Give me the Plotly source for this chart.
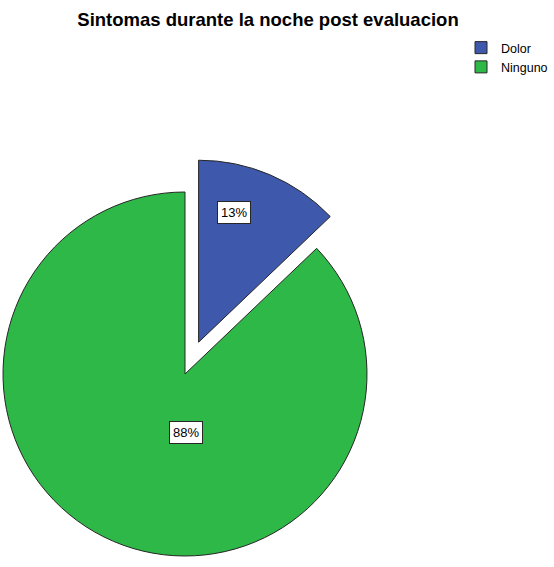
import math
import plotly.graph_objects as go

# Data
categories = ["Dolor", "Ninguno"]
percentages = [13, 88]
colors = ["#3E58AC", "#2EB848"]
title_text = "Sintomas durante la noche post evaluacion"

W, H = 554, 567
FONT = "Liberation Sans, Arial, sans-serif"
OUTLINE = "#262626"
CLEAR = "rgba(0,0,0,0)"

# Pie geometry (pixels)
cx, cy, radius = 185, 374, 182
explode = 0.19  # fraction of the radius the first slice is pulled out

total = sum(percentages)
mid_angle = math.radians(360.0 * percentages[0] / total / 2.0)
shift = explode * radius
dx = shift * math.sin(mid_angle)
dy = shift * math.cos(mid_angle)


def pie_domain(center_x, center_y):
    return dict(
        x=[(center_x - radius) / W, (center_x + radius) / W],
        y=[(H - center_y - radius) / H, (H - center_y + radius) / H],
    )


def slice_style(visible_index):
    fill = [c if i == visible_index else CLEAR for i, c in enumerate(colors)]
    line = [OUTLINE if i == visible_index else CLEAR for i in range(len(colors))]
    return dict(colors=fill, line=dict(color=line, width=1))


fig = go.Figure()

# Main body of the pie (Ninguno)
fig.add_trace(go.Pie(
    labels=categories, values=percentages, sort=False, direction="clockwise",
    rotation=0, textinfo="none", hoverinfo="label+value",
    marker=slice_style(1), domain=pie_domain(cx, cy), showlegend=False,
))

# Exploded slice (Dolor), same pie shifted along its mid angle
fig.add_trace(go.Pie(
    labels=categories, values=percentages, sort=False, direction="clockwise",
    rotation=0, textinfo="none", hoverinfo="label+value",
    marker=slice_style(0), domain=pie_domain(cx + dx, cy - dy), showlegend=False,
))

# Legend entries
for name, col in zip(categories, colors):
    fig.add_trace(go.Scatter(
        x=[None], y=[None], mode="markers", name=name,
        marker=dict(symbol="square", size=12, color=col,
                    line=dict(color=OUTLINE, width=1)),
    ))

# Boxed percentage labels
label_pos = [(234, 212), (185.5, 443.5)]
annotations = []
for val, (px, py) in zip(percentages, label_pos):
    annotations.append(dict(
        x=px / W, y=(H - py) / H, xref="paper", yref="paper",
        text=f"{val}%", showarrow=False,
        font=dict(family=FONT, size=13, color="#000000"),
        bgcolor="#ffffff", bordercolor=OUTLINE, borderwidth=1, borderpad=3,
    ))

fig.update_layout(
    width=W, height=H, autosize=False,
    margin=dict(l=0, r=0, t=0, b=0),
    paper_bgcolor="#ffffff", plot_bgcolor="#ffffff",
    title=dict(text=f"<b>{title_text}</b>", x=268 / W, xanchor="center",
               y=1 - 20 / H, yanchor="middle", yref="container",
               font=dict(family=FONT, size=18.5, color="#000000")),
    xaxis=dict(visible=False), yaxis=dict(visible=False),
    legend=dict(x=461 / W, y=1 - 33 / H, xanchor="left", yanchor="top",
                font=dict(family=FONT, size=12.5, color="#000000"),
                bgcolor=CLEAR, tracegroupgap=0, itemwidth=30),
    annotations=annotations,
)

fig.write_html("out.html")
